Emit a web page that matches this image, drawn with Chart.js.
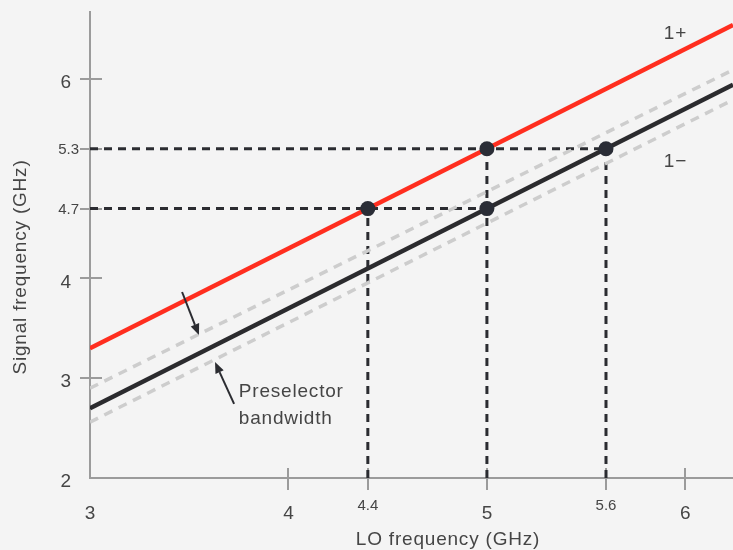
<!DOCTYPE html>
<html>
<head>
<meta charset="utf-8">
<script src="https://cdn.jsdelivr.net/npm/chart.js@4/dist/chart.umd.min.js"></script>
<style>
    html, body { margin: 0; padding: 0; background: #f4f4f4; }
</style>
</head>
<body>
<canvas id="mixChart" width="733" height="550"></canvas>
<script>
// tick values shown on the axes (small ones use the smaller font)
const loTicks = [3, 4, 4.4, 5, 5.6, 6];
const sigTicks = [2, 3, 4, 4.7, 5.3, 6];
const smallTicks = [4.4, 5.6, 4.7, 5.3];

// lines, as LO frequency -> signal frequency (GHz)
const lineLO = [3, 6.24];
const plusSig = [3.3, 6.54];    // 1+
const minusSig = [2.7, 5.94];   // 1-
const bandHigh = [2.9, 6.09];   // preselector edges
const bandLow = [2.56, 5.79];

// marked points
const pointLO = [4.4, 5, 5, 5.6];
const pointSig = [4.7, 5.3, 4.7, 5.3];

// dashed guides
const guideLevels = [4.7, 5.3];
const guideEnds = [5, 5.6];
const guideLO = [4.4, 5, 5.6];
const guideTops = [4.7, 5.3, 5.3];

// annotations (data units)
const notes = [
    { text: 'Preselector', x: 3.75, y: 2.81, align: 'left' },
    { text: 'bandwidth', x: 3.75, y: 2.54, align: 'left' },
    { text: '1+', x: 5.95, y: 6.40, align: 'center' },
    { text: '1\u2212', x: 5.95, y: 5.12, align: 'center' }
];
const arrows = [
    { from: [3.464, 3.864], to: [3.549, 3.433] },
    { from: [3.726, 2.742], to: [3.630, 3.162] }
];

const FONT = '"Liberation Sans", Arial, sans-serif';
const axisGray = '#9b9b9b';
const textGray = '#454545';
const dark = '#2b2c31';

const pairs = (xs, ys) => xs.map((x, i) => ({ x: x, y: ys[i] }));

const datasets = [];
guideLevels.forEach((lvl, i) => {
    datasets.push({ data: [{ x: 3, y: lvl }, { x: guideEnds[i], y: lvl }], borderColor: dark, borderWidth: 3, borderDash: [8, 6], pointRadius: 0, order: 5 });
});
guideLO.forEach((lo, i) => {
    datasets.push({ data: [{ x: lo, y: 2 }, { x: lo, y: guideTops[i] }], borderColor: dark, borderWidth: 3, borderDash: [8, 6], pointRadius: 0, order: 5 });
});
datasets.push({ data: pairs(lineLO, bandHigh), borderColor: '#cdcdcd', borderWidth: 3.5, borderDash: [9, 7], pointRadius: 0, order: 4 });
datasets.push({ data: pairs(lineLO, bandLow), borderColor: '#cdcdcd', borderWidth: 3.5, borderDash: [9, 7], pointRadius: 0, order: 4 });
datasets.push({ data: pairs(lineLO, minusSig), borderColor: '#2b2b2e', borderWidth: 4.5, pointRadius: 0, order: 2 });
datasets.push({ data: pairs(lineLO, plusSig), borderColor: '#ff2e1f', borderWidth: 4.5, pointRadius: 0, order: 2 });
datasets.push({ data: pairs(pointLO, pointSig), showLine: false, pointRadius: 7.5, pointBorderWidth: 0, pointBackgroundColor: '#2a2d36', order: 0 });

const axisDecor = {
    id: 'axisDecor',
    beforeDatasetsDraw(chart) {
        const { ctx, scales: { x, y } } = chart;
        ctx.save();
        ctx.strokeStyle = axisGray;
        ctx.lineWidth = 2;
        ctx.beginPath();
        loTicks.forEach(v => {
            if (v === x.min) return;
            const px = Math.round(x.getPixelForValue(v));
            ctx.moveTo(px, y.bottom - 10);
            ctx.lineTo(px, y.bottom + 12);
        });
        sigTicks.forEach(v => {
            if (v === y.min) return;
            const py = Math.round(y.getPixelForValue(v));
            ctx.moveTo(x.left - 10, py);
            ctx.lineTo(x.left + 12, py);
        });
        ctx.stroke();
        ctx.restore();
    },
    afterDraw(chart) {
        const { ctx, scales: { x, y } } = chart;
        ctx.save();
        ctx.fillStyle = textGray;
        ctx.textBaseline = 'middle';

        // tick labels
        ctx.textAlign = 'center';
        loTicks.forEach(v => {
            const small = smallTicks.includes(v);
            ctx.font = (small ? '15px ' : '19px ') + FONT;
            ctx.fillText(String(v), x.getPixelForValue(v), y.bottom + (small ? 28 : 36));
        });
        ctx.textAlign = 'right';
        sigTicks.forEach(v => {
            const small = smallTicks.includes(v);
            ctx.font = (small ? '15px ' : '19px ') + FONT;
            ctx.fillText(String(v), x.left - (small ? 11 : 19), y.getPixelForValue(v) + (small ? 1 : 4));
        });

        // axis titles
        ctx.font = '19px ' + FONT;
        ctx.letterSpacing = '0.8px';
        ctx.textAlign = 'center';
        ctx.textBaseline = 'alphabetic';
        ctx.fillText('LO frequency (GHz)', 448, 545);
        ctx.save();
        ctx.translate(26, 267);
        ctx.rotate(-Math.PI / 2);
        ctx.fillText('Signal frequency (GHz)', 0, 0);
        ctx.restore();

        // notes
        notes.forEach(n => {
            ctx.textAlign = n.align;
            ctx.fillText(n.text, x.getPixelForValue(n.x), y.getPixelForValue(n.y));
        });
        ctx.letterSpacing = '0px';

        // arrows
        ctx.strokeStyle = dark;
        ctx.fillStyle = dark;
        ctx.lineWidth = 2;
        arrows.forEach(a => {
            const x0 = x.getPixelForValue(a.from[0]), y0 = y.getPixelForValue(a.from[1]);
            const x1 = x.getPixelForValue(a.to[0]), y1 = y.getPixelForValue(a.to[1]);
            const ang = Math.atan2(y1 - y0, x1 - x0);
            const hl = 11, hw = 4.5;
            const bx = x1 - hl * Math.cos(ang), by = y1 - hl * Math.sin(ang);
            ctx.beginPath();
            ctx.moveTo(x0, y0);
            ctx.lineTo(bx, by);
            ctx.stroke();
            ctx.beginPath();
            ctx.moveTo(x1, y1);
            ctx.lineTo(bx + hw * Math.sin(ang), by - hw * Math.cos(ang));
            ctx.lineTo(bx - hw * Math.sin(ang), by + hw * Math.cos(ang));
            ctx.closePath();
            ctx.fill();
        });
        ctx.restore();
    }
};

const ctx = document.getElementById('mixChart').getContext('2d');
const mixChart = new Chart(ctx, {
    type: 'line',
    data: { datasets: datasets },
    options: {
        responsive: false,
        animation: false,
        layout: { autoPadding: false, padding: { top: 12, left: 0, right: 0, bottom: 0 } },
        plugins: { legend: { display: false }, tooltip: { enabled: false } },
        scales: {
            x: {
                type: 'linear',
                min: 3,
                max: 6.24,
                afterFit: s => { s.height = 72; },
                ticks: { display: false },
                grid: { display: false, drawTicks: false },
                border: { display: true, color: axisGray, width: 2 }
            },
            y: {
                type: 'linear',
                min: 2,
                max: 6.67,
                afterFit: s => { s.width = 90; },
                ticks: { display: false },
                grid: { display: false, drawTicks: false },
                border: { display: true, color: axisGray, width: 2 }
            }
        }
    },
    plugins: [axisDecor]
});
</script>
</body>
</html>
